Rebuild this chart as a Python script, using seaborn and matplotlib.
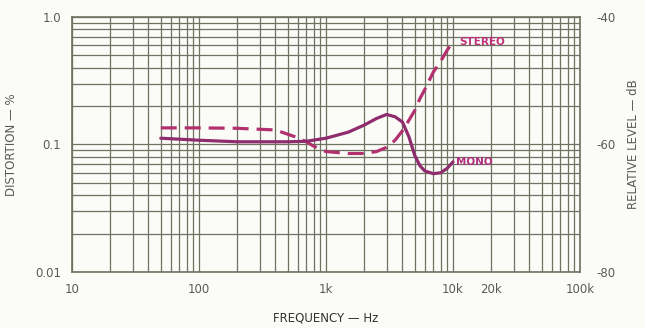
import numpy as np
import pandas as pd
import matplotlib
matplotlib.use('Agg')
import matplotlib.pyplot as plt
import seaborn as sns

# data
stereo_freq = [50, 100, 200, 400, 600, 700, 800, 1000, 1500, 2000, 2500, 3000,
               3500, 4000, 4500, 5000, 5500, 6000, 7000, 8000, 9000, 10000]
stereo_dist = [0.135, 0.135, 0.134, 0.13, 0.113, 0.105, 0.097, 0.088, 0.085, 0.085, 0.088, 0.095,
               0.108, 0.128, 0.155, 0.185, 0.23, 0.27, 0.37, 0.45, 0.55, 0.64]

mono_freq = [50, 100, 200, 500, 700, 1000, 1500, 2000, 2500, 3000, 3500, 4000,
             4500, 5000, 5500, 6000, 7000, 8000, 9000, 10000]
mono_dist = [0.112, 0.108, 0.105, 0.105, 0.106, 0.112, 0.125, 0.142, 0.16, 0.172, 0.165, 0.15,
             0.115, 0.082, 0.068, 0.062, 0.059, 0.06, 0.065, 0.073]

xtick_vals = [10, 100, 1000, 10000, 20000, 100000]
xtick_labels = ['10', '100', '1k', '10k', '20k', '100k']
ytick_vals = [0.01, 0.1, 1.0]
ytick_labels = ['0.01', '0.1', '1.0']
db_ticks = [-80, -60, -40]

df = pd.concat([
    pd.DataFrame({'freq': stereo_freq, 'dist': stereo_dist, 'mode': 'STEREO'}),
    pd.DataFrame({'freq': mono_freq, 'dist': mono_dist, 'mode': 'MONO'}),
])

sns.set_style('white')
plt.rcParams['font.family'] = ['DejaVu Sans']

grid_col = '#6e7260'
text_col = '#5a5a55'
stereo_col = '#b3306f'
mono_col = '#8e2c6e'

fig = plt.figure(figsize=(6.45, 3.28), dpi=100)
fig.patch.set_facecolor('#fbfbf8')
ax = fig.add_axes([0.1116, 0.171, 0.7876, 0.777])
ax.set_facecolor('#fbfbf8')

sns.lineplot(data=df, x='freq', y='dist', hue='mode', style='mode',
             palette={'STEREO': stereo_col, 'MONO': mono_col},
             dashes={'STEREO': (5, 2.5), 'MONO': ''},
             linewidth=2.3, legend=False, ax=ax)

ax.set_xscale('log')
ax.set_yscale('log')
ax.set_xlim(10, 100000)
ax.set_ylim(0.01, 1.0)

ax.grid(True, which='both', color=grid_col, linewidth=0.9)
ax.set_axisbelow(True)
for s in ax.spines.values():
    s.set_color(grid_col)
    s.set_linewidth(1.2)

ax.set_xticks(xtick_vals)
ax.set_xticklabels(xtick_labels)
ax.set_yticks(ytick_vals)
ax.set_yticklabels(ytick_labels)
ax.tick_params(which='both', length=0, labelsize=8.5, labelcolor=text_col, pad=8)

ax.set_xlabel('FREQUENCY — Hz', fontsize=8.5, color='#333330', labelpad=11)
ax.set_ylabel('DISTORTION — %', fontsize=8.5, color=text_col, labelpad=12)

ax2 = ax.twinx()
ax2.set_ylim(-80, -40)
ax2.set_yticks(db_ticks)
ax2.set_yticklabels(['-80', '-60', '-40'])
ax2.tick_params(length=0, labelsize=8.5, labelcolor=text_col, pad=12)
ax2.set_ylabel('RELATIVE LEVEL — dB', fontsize=8.5, color=text_col, labelpad=8)
for s in ax2.spines.values():
    s.set_visible(False)

ax.text(stereo_freq[-1] * 1.12, stereo_dist[-1], 'STEREO', color='#c0307a',
        fontsize=7.5, fontweight='bold', va='center', ha='left')
ax.text(mono_freq[-1] * 1.05, mono_dist[-1], 'MONO', color='#b03080',
        fontsize=7.5, fontweight='bold', va='center', ha='left')

fig.savefig('out.png', dpi=100, facecolor=fig.get_facecolor())
